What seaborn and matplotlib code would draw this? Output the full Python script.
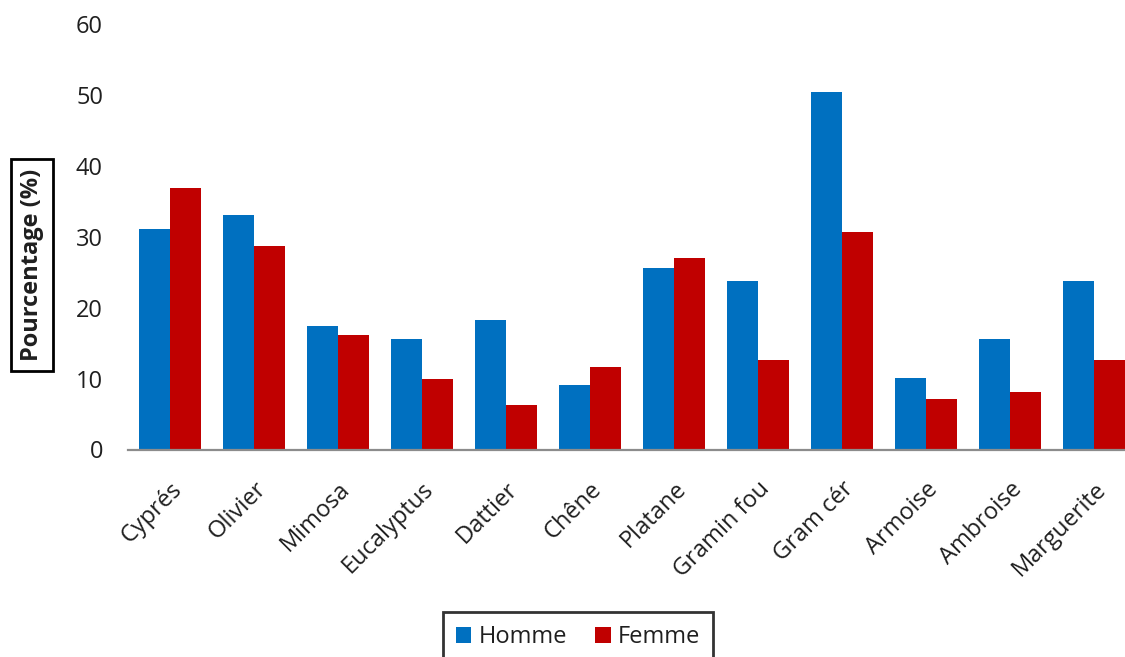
import matplotlib
matplotlib.use("Agg")
import matplotlib.pyplot as plt
import seaborn as sns
import pandas as pd

categories = ["Cyprés", "Olivier", "Mimosa", "Eucalyptus", "Dattier", "Chêne",
              "Platane", "Gramin fou", "Gram cér", "Armoise", "Ambroise", "Marguerite"]
homme = [31.1, 33.0, 17.4, 15.6, 18.3, 9.1, 25.6, 23.8, 50.35, 10.1, 15.6, 23.8]
femme = [36.9, 28.7, 16.2, 10.0, 6.3, 11.65, 27.0, 12.6, 30.6, 7.1, 8.1, 12.6]
series = ["Homme", "Femme"]
colors = ["#0070C0", "#C00000"]
y_ticks = [0, 10, 20, 30, 40, 50, 60]

df = pd.DataFrame({
    "Pollen": categories * 2,
    "Sexe": [series[0]] * len(categories) + [series[1]] * len(categories),
    "Pourcentage": homme + femme,
})

sns.set_theme(style="white")
plt.rcParams["font.family"] = ["Open Sans", "DejaVu Sans"]
text_color = "#1f1f1f"
fs = 17

fig = plt.figure(figsize=(11.25, 6.57), dpi=100)
ax = fig.add_axes([128 / 1125, 1 - 449.5 / 657, (1125 - 128) / 1125, (449.5 - 24) / 657])

sns.barplot(data=df, x="Pollen", y="Pourcentage", hue="Sexe", order=categories,
            hue_order=series, palette=colors, width=0.73, saturation=1,
            linewidth=0, ax=ax, legend=True)

ax.set_xlim(-0.5, 11.37)
ax.set_ylim(0, 60)
ax.set_yticks(y_ticks)
ax.set_yticklabels([str(t) for t in y_ticks], fontsize=fs, color=text_color)
ax.tick_params(axis="y", length=0, pad=18)
ax.tick_params(axis="x", length=0, pad=20)
ax.set_xticks(range(len(categories)))
ax.set_xticklabels(categories, rotation=45, ha="right", rotation_mode="anchor",
                   fontsize=fs, color=text_color)

for side in ["left", "right", "top"]:
    ax.spines[side].set_visible(False)
ax.spines["bottom"].set_color("#8c8c8c")
ax.spines["bottom"].set_linewidth(1.6)

ax.set_xlabel("")
ax.set_ylabel("")
fig.text(32 / 1125, 1 - 265 / 657, "Pourcentage (%)", rotation=90, ha="center", va="center",
         fontsize=fs, fontweight="bold", color=text_color,
         bbox=dict(boxstyle="square,pad=0.4", facecolor="white", edgecolor="black", linewidth=2))

handles, labels = ax.get_legend_handles_labels()
ax.get_legend().remove()
leg = fig.legend(handles, labels, loc="upper center", bbox_to_anchor=(578 / 1125, 1 - 612 / 657),
                 ncol=2, frameon=True, fontsize=fs, handlelength=0.65, handleheight=0.65,
                 handletextpad=0.3, columnspacing=1.2, borderpad=0.55, borderaxespad=0,
                 fancybox=False)
leg.get_frame().set_edgecolor("black")
leg.get_frame().set_linewidth(2)
for t in leg.get_texts():
    t.set_color(text_color)

fig.savefig("out.png", dpi=100)
